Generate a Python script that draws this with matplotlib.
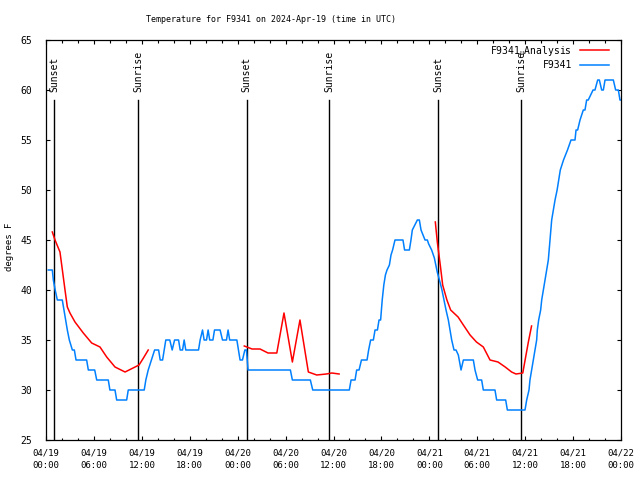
import matplotlib
matplotlib.use('Agg')
import matplotlib.pyplot as plt
from matplotlib.lines import Line2D
from matplotlib.ticker import MultipleLocator

# hours since 2024-04-19 00:00 UTC
obs_hours = [0.29, 0.79, 0.92, 1.15, 1.42, 2.04, 2.25, 2.46, 2.67, 2.92, 3.3, 3.55, 3.76,
             5.09, 5.3, 6.1, 6.35, 7.8, 8.0, 8.64, 8.85, 10.1, 10.3, 12.3, 12.5, 12.8,
             13.2, 13.6, 14.1, 14.3, 14.6, 14.8, 15.0, 15.5, 15.8, 16.1, 16.6, 16.8,
             17.1, 17.3, 17.5, 19.1, 19.3, 19.6, 19.8, 20.1, 20.3, 20.5, 20.9, 21.1,
             21.8, 22.1, 22.6, 22.8, 23.0, 23.9, 24.1, 24.3, 24.6, 24.9, 25.1, 25.3,
             30.6, 30.85, 33.1, 33.4, 37.98, 38.2, 38.7, 38.9, 39.2, 39.5, 40.2, 40.4,
             40.65, 40.99, 41.2, 41.5, 41.7, 41.9, 42.1, 42.3, 42.5, 42.7, 43.0, 43.2,
             43.4, 43.7, 44.7, 44.9, 45.5, 45.7, 45.87, 46.5, 46.75, 46.96, 47.46,
             47.75, 47.92, 48.29, 48.63, 48.99, 49.33, 49.58, 49.84, 50.09, 50.38,
             50.59, 50.8, 51.09, 51.34, 51.63, 51.97, 52.26, 53.51, 53.72, 54.05,
             54.55, 54.76, 56.22, 56.43, 57.56, 57.77, 59.98, 60.19, 60.48, 60.6,
             60.81, 61.02, 61.23, 61.44, 61.52, 61.69, 61.94, 62.07, 62.28, 62.48,
             62.69, 62.9, 63.11, 63.32, 63.53, 63.74, 64.0, 64.2, 64.4, 64.8, 65.3,
             65.74, 66.24, 66.37, 66.57, 66.87, 67.28, 67.49, 67.7, 67.9, 68.5, 68.74,
             69.08, 69.29, 69.58, 69.79, 70.0, 71.04, 71.33, 71.67, 71.87, 72.0]
obs_temps = [42, 42, 41, 40, 39, 39, 38, 37, 36, 35, 34, 34, 33,
             33, 32, 32, 31, 31, 30, 30, 29, 29, 30, 30, 31, 32,
             33, 34, 34, 33, 33, 34, 35, 35, 34, 35, 35, 34,
             34, 35, 34, 34, 35, 36, 35, 35, 36, 35, 35, 36,
             36, 35, 35, 36, 35, 35, 34, 33, 33, 34, 34, 32,
             32, 31, 31, 30, 30, 31, 31, 32, 32, 33, 33, 34,
             35, 35, 36, 36, 37, 37, 39, 40.5, 41.5, 42, 42.5, 43.5,
             44, 45, 45, 44, 44, 45, 46, 47, 47, 46, 45,
             45, 44.6, 44, 43.2, 41.8, 40.8, 40, 39, 38, 37,
             36, 35, 34, 34, 33.5, 32, 33, 33, 32, 31,
             31, 30, 30, 29, 29, 28, 28, 29, 30, 31,
             32, 33, 34, 35, 36, 37, 38, 39, 40, 41,
             42, 43, 45, 47, 48, 49, 50, 51, 52, 53, 54,
             55, 55, 56, 56, 57, 58, 58, 59, 59, 60, 60,
             61, 61, 60, 60, 61, 61, 60, 60, 59, 59]

ana1_hours = [0.79, 1.13, 1.75, 2.05, 2.38, 2.67, 3.0, 3.63, 4.67, 5.72, 6.76, 7.6,
              8.64, 9.9, 10.9, 11.65, 12.2, 12.8]
ana1_temps = [45.8, 45.0, 43.8, 42.0, 40.0, 38.3, 37.7, 36.8, 35.7, 34.7, 34.3, 33.3,
              32.3, 31.8, 32.2, 32.5, 33.2, 34.0]
ana2_hours = [24.83, 25.8, 26.8, 27.8, 28.9, 29.8, 30.85, 31.8, 32.85, 33.9, 35.1,
              35.8, 36.7]
ana2_temps = [34.4, 34.1, 34.1, 33.7, 33.7, 37.7, 32.8, 37.0, 31.8, 31.5, 31.6,
              31.7, 31.6]
ana3_hours = [48.75, 49.0, 49.4, 49.67, 50.2, 50.67, 51.6, 52.26, 53.1, 53.9, 54.76,
              55.6, 56.6, 57.5, 58.3, 58.85, 59.7, 60.06, 60.4, 60.8]
ana3_temps = [46.8, 44.8, 42.3, 40.5, 39.0, 38.0, 37.3, 36.5, 35.5, 34.8, 34.3,
              33.0, 32.8, 32.3, 31.8, 31.6, 31.7, 33.3, 34.8, 36.4]

sun_hours = [1.04, 11.56, 25.13, 35.47, 49.12, 59.52]
sun_labels = ['Sunset', 'Sunrise', 'Sunset', 'Sunrise', 'Sunset', 'Sunrise']

tick_hours = [0, 6, 12, 18, 24, 30, 36, 42, 48, 54, 60, 66, 72]
tick_labels = ['04/19\n00:00', '04/19\n06:00', '04/19\n12:00', '04/19\n18:00',
               '04/20\n00:00', '04/20\n06:00', '04/20\n12:00', '04/20\n18:00',
               '04/21\n00:00', '04/21\n06:00', '04/21\n12:00', '04/21\n18:00',
               '04/22\n00:00']

plt.rcParams['font.family'] = ['DejaVu Sans Mono']
plt.rcParams['mathtext.fontset'] = 'custom'
plt.rcParams['mathtext.tt'] = 'DejaVu Sans Mono'
fs = 6.5
blue = '#0080ff'
red = '#ff0000'

fig = plt.figure(figsize=(6.4, 4.8), dpi=100)
ax = fig.add_axes([46 / 640, 40 / 480, 575 / 640, 400 / 480])

for h, lab in zip(sun_hours, sun_labels):
    ax.plot([h, h], [25, 59], color='black', lw=1.0)
    ax.text(h, 59.8, lab, rotation=90, ha='center', va='bottom', fontsize=fs + 0.5)

ax.plot(obs_hours, obs_temps, color=blue, lw=1.1)
for hs, ts in [(ana1_hours, ana1_temps), (ana2_hours, ana2_temps), (ana3_hours, ana3_temps)]:
    ax.plot(hs, ts, color=red, lw=1.1)

ax.set_xlim(0, 72)
ax.set_ylim(25, 65)
ax.set_xticks(tick_hours)
ax.set_xticklabels(tick_labels, fontsize=fs, linespacing=1.5)
ax.xaxis.set_minor_locator(MultipleLocator(2))
ax.set_yticks(range(25, 66, 5))
ax.tick_params(axis='both', which='major', direction='in', length=3, width=0.8,
               top=True, right=True, labelsize=fs)
ax.tick_params(axis='x', which='minor', direction='in', length=1.8, width=0.8, top=True)
ax.tick_params(axis='y', pad=10, labelsize=fs + 0.5)
ax.tick_params(axis='x', pad=6)
for s in ax.spines.values():
    s.set_linewidth(0.9)

handles = [Line2D([], [], color=red, lw=1.1), Line2D([], [], color=blue, lw=1.1)]
ax.legend(handles, [r'F9341$_{\mathtt{u}}$Analysis', 'F9341'], loc='upper right',
          bbox_to_anchor=(1 - 5 / 575, 1 + 3 / 400),
          frameon=False, markerfirst=False, fontsize=fs + 0.5, handlelength=3.0,
          handletextpad=0.8, borderaxespad=0.3, labelspacing=0.25)

fig.text(271 / 640, 1 - 20 / 480, 'Temperature for F9341 on 2024-Apr-19 (time in UTC)',
         ha='center', va='center', fontsize=6)
fig.text(10 / 640, 1 - 247 / 480, 'degrees F', rotation=90, ha='center', va='center',
         fontsize=fs)

fig.savefig('out.png', dpi=100)
